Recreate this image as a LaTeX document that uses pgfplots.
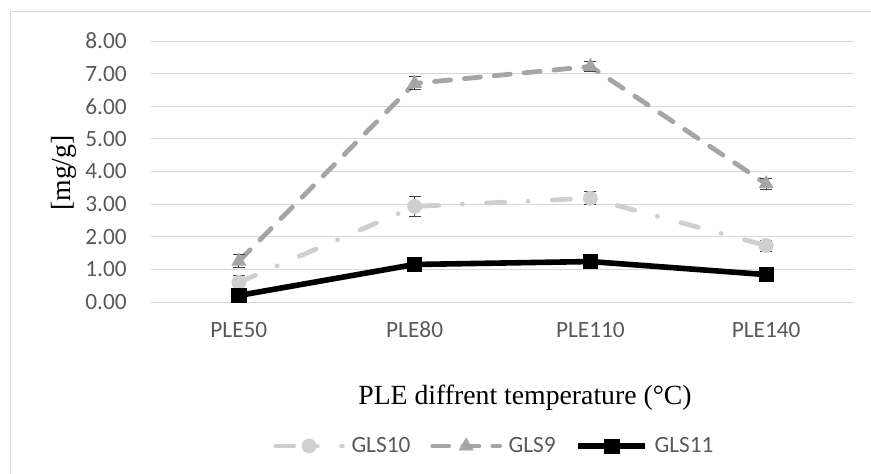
\documentclass[border=0pt]{standalone}
\usepackage{fontspec}
\setmainfont{Liberation Serif}
\newfontfamily\calibri{Carlito}
\usepackage{pgfplots}
\pgfplotsset{compat=1.18}

\definecolor{gridgray}{HTML}{D9D9D9}
\definecolor{ticktext}{HTML}{595959}
\definecolor{glsten}{HTML}{CFCFCF}
\definecolor{glsnine}{HTML}{A5A5A5}
\definecolor{errgray}{HTML}{404040}

% x = 1..4 stand for PLE50, PLE80, PLE110, PLE140
\pgfplotstableread{
x  y     err
1  0.60  0.20
2  2.93  0.30
3  3.18  0.20
4  1.73  0.17
}\glsten
\pgfplotstableread{
x  y     err
1  1.25  0.20
2  6.70  0.20
3  7.22  0.15
4  3.62  0.18
}\glsnine
\pgfplotstableread{
x  y     err
1  0.20  0.05
2  1.15  0.05
3  1.24  0.05
4  0.84  0.05
}\glseleven

\newcommand{\tickfont}{\calibri\fontsize{17.5}{21}\selectfont}
\newcommand{\labelfont}{\fontsize{20.8}{24}\selectfont}

\begin{document}
\begin{tikzpicture}
\path[use as bounding box] (-113.25pt,-129pt) rectangle (540pt,226.5pt);
% chart frame
\draw[gridgray, line width=0.75pt] (-105pt,-140pt) -- (-105pt,217.5pt) -- (550pt,217.5pt);
\begin{axis}[
  at={(0pt,0pt)}, anchor=south west,
  scale only axis,
  width=527.25pt, height=195.75pt,
  xmin=0.5, xmax=4.5,
  ymin=0, ymax=8,
  clip=false,
  xtick={1,2,3,4},
  xticklabels={PLE50,PLE80,PLE110,PLE140},
  ytick={0,1,...,8},
  /pgf/number format/.cd, fixed, fixed zerofill, precision=2, assume math mode=true,
  /pgfplots/.cd,
  ymajorgrids,
  grid style={gridgray, line width=0.75pt},
  axis line style={draw=none},
  major tick length=0pt,
  tick style={draw=none},
  tick label style={font=\tickfont, text=ticktext},
  x tick label style={anchor=base, inner sep=0pt, yshift=-27pt},
  y tick label style={anchor=east, inner sep=0pt, xshift=-18pt},
  xlabel={PLE diffrent temperature (°C)},
  xlabel style={font=\labelfont, at={(axis description cs:0.532,-0.391)}, anchor=base},
  legend columns=-1,
  legend style={at={(axis description cs:0.489,-0.552)}, anchor=center,
    draw=none, fill=none, font=\tickfont, text=ticktext,
    /tikz/every even column/.append style={column sep=13pt},
    /tikz/every odd column/.append style={column sep=3pt}},
  legend image code/.code={%
    \draw[mark repeat=2, mark phase=2, #1]
      plot coordinates {(0pt,0pt) (25pt,0pt) (50pt,0pt)};},
  error bars/y dir=both,
  error bars/y explicit,
  error bars/error bar style={solid, line width=0.75pt, errgray},
  error bars/error mark options={solid, line width=0.75pt, errgray, mark size=4.5pt, rotate=90},
]
\addplot[glsten, line width=3.6pt, line cap=round,
  dash pattern=on 13.5pt off 17.7pt on 0.01pt off 18.2pt,
  mark=*, mark size=5.3pt, mark options={solid, fill=glsten, draw=glsten, line width=0.5pt}]
  table[x=x, y=y, y error=err] {\glsten};
\addlegendentry{GLS10}
\addplot[glsnine, line width=3.6pt, line cap=round,
  dash pattern=on 12pt off 10.5pt,
  mark=triangle*, mark size=6pt, mark options={solid, fill=glsnine, draw=glsnine, line width=0.5pt}]
  table[x=x, y=y, y error=err] {\glsnine};
\addlegendentry{GLS9}
\addplot[black, line width=4.2pt,
  mark=square*, mark size=5.4pt, mark options={solid, fill=black, draw=black, line width=0.5pt}]
  table[x=x, y=y, y error=err] {\glseleven};
\addlegendentry{GLS11}
% y axis title
\node[rotate=90, font=\labelfont, anchor=center] at (axis description cs:-0.124,0.494) {[mg/g]};
\end{axis}
\end{tikzpicture}
\end{document}
